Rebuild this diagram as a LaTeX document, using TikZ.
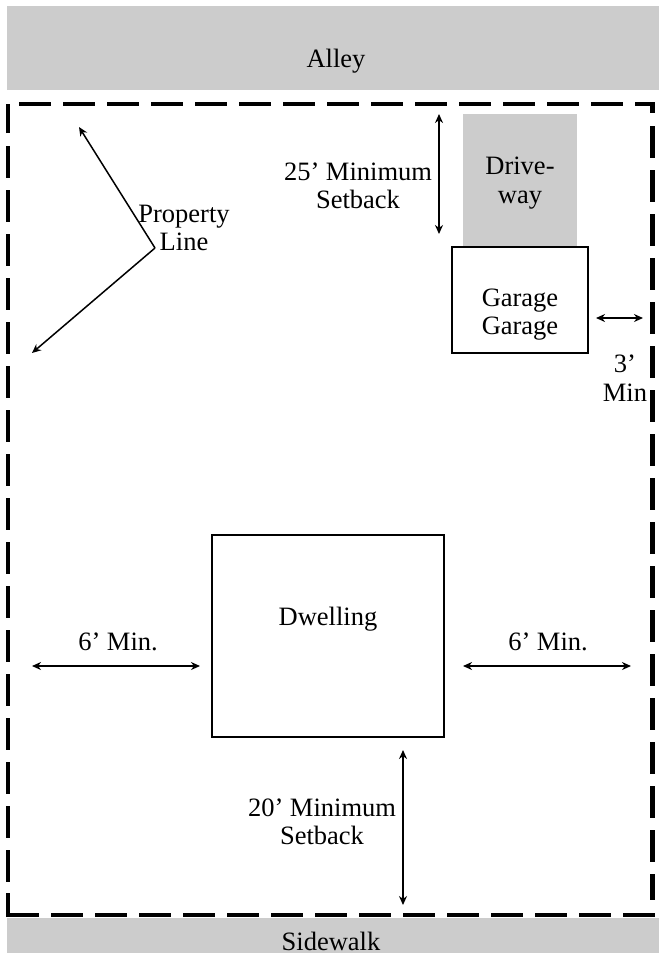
\documentclass[tikz,border=0pt]{standalone}
\usepackage{fontspec}
\setmainfont{Liberation Serif}
\usetikzlibrary{arrows.meta}
\tikzset{
  pad/.style={fill=black!20,draw=none},
  box/.style={draw=black,line width=2pt,fill=white},
  dimline/.style={line width=1.5pt,{Stealth[length=9pt,width=8pt]}-{Stealth[length=9pt,width=8pt]}},
  leader/.style={line width=1.5pt,-{Stealth[length=9pt,width=8pt]}},
  lot/.style={line width=4.5pt,line cap=butt},
  lbl/.style={inner sep=0pt,outer sep=0pt,align=center,font=\fontsize{26.5}{28.5}\selectfont},
}
\begin{document}
\begin{tikzpicture}[x=1pt,y=-1pt]
\useasboundingbox (0,0) rectangle (659,954);
\fill[white] (0,0) rectangle (659,954);
% paved strips
\fill[pad] (7,6) rectangle (659,90);
\fill[pad] (7,918) rectangle (659,953);
\fill[pad] (463,114) rectangle (577,246);
% lot line
\draw[lot,dash pattern=on 32pt off 12pt] (19,104) -- (635,104);
\draw[lot] (635,104) -- (652.5,104) -- (652.5,113);
\draw[lot,dash pattern=on 32pt off 12pt] (652.5,126) -- (652.5,900);
\draw[lot] (8,133) -- (8,104);
\draw[lot,dash pattern=on 32pt off 12pt] (8,146) -- (8,893);
\draw[lot] (8,893) -- (8,915) -- (39,915);
\draw[lot,dash pattern=on 32pt off 12pt] (51,915) -- (655,915);
% buildings
\node[box,minimum width=136pt,minimum height=106pt,inner sep=0pt,anchor=north west] (garage) at (451,246) {};
\node[box,minimum width=232pt,minimum height=202pt,inner sep=0pt,anchor=north west] (dwelling) at (211,534) {};
% labels
\node[lbl] (alley) at (336,61) {Alley};
\node[lbl] (sidewalk) at (331,941) {Sidewalk};
\node[lbl] (drive) at (520,183) {Drive-\\way};
\node[lbl] (garagetext) at (520,314.5) {Garage\\Garage};
\node[lbl] (dwelltext) at (328,619) {Dwelling};
\node[lbl] (prop) at (184,228) {Property\\Line};
\node[lbl] (s25) at (358,186) {25’ Minimum\\Setback};
\node[lbl] (s20) at (322,822) {20’ Minimum\\Setback};
\node[lbl] (min3) at (625,378) {3’\\Min};
\node[lbl] (l6) at (118,642) {6’ Min.};
\node[lbl] (r6) at (548,642) {6’ Min.};
% arrow ends
\coordinate (pv) at (155,248);
\coordinate (p1) at (79,127);
\coordinate (p2) at (32,353);
\coordinate (a25t) at (439,114);
\coordinate (a25b) at (439,234);
\coordinate (a3l) at (596,318);
\coordinate (a3r) at (643,318);
\coordinate (l6a) at (32,666);
\coordinate (l6b) at (200,666);
\coordinate (r6a) at (463,666);
\coordinate (r6b) at (631,666);
\coordinate (a20t) at (403,750);
\coordinate (a20b) at (403,905);
\draw[leader] (pv) -- (p1);
\draw[leader] (pv) -- (p2);
\draw[dimline] (a25t) -- (a25b);
\draw[dimline] (a3l) -- (a3r);
\draw[dimline] (l6a) -- (l6b);
\draw[dimline] (r6a) -- (r6b);
\draw[dimline] (a20t) -- (a20b);
\end{tikzpicture}
\end{document}
